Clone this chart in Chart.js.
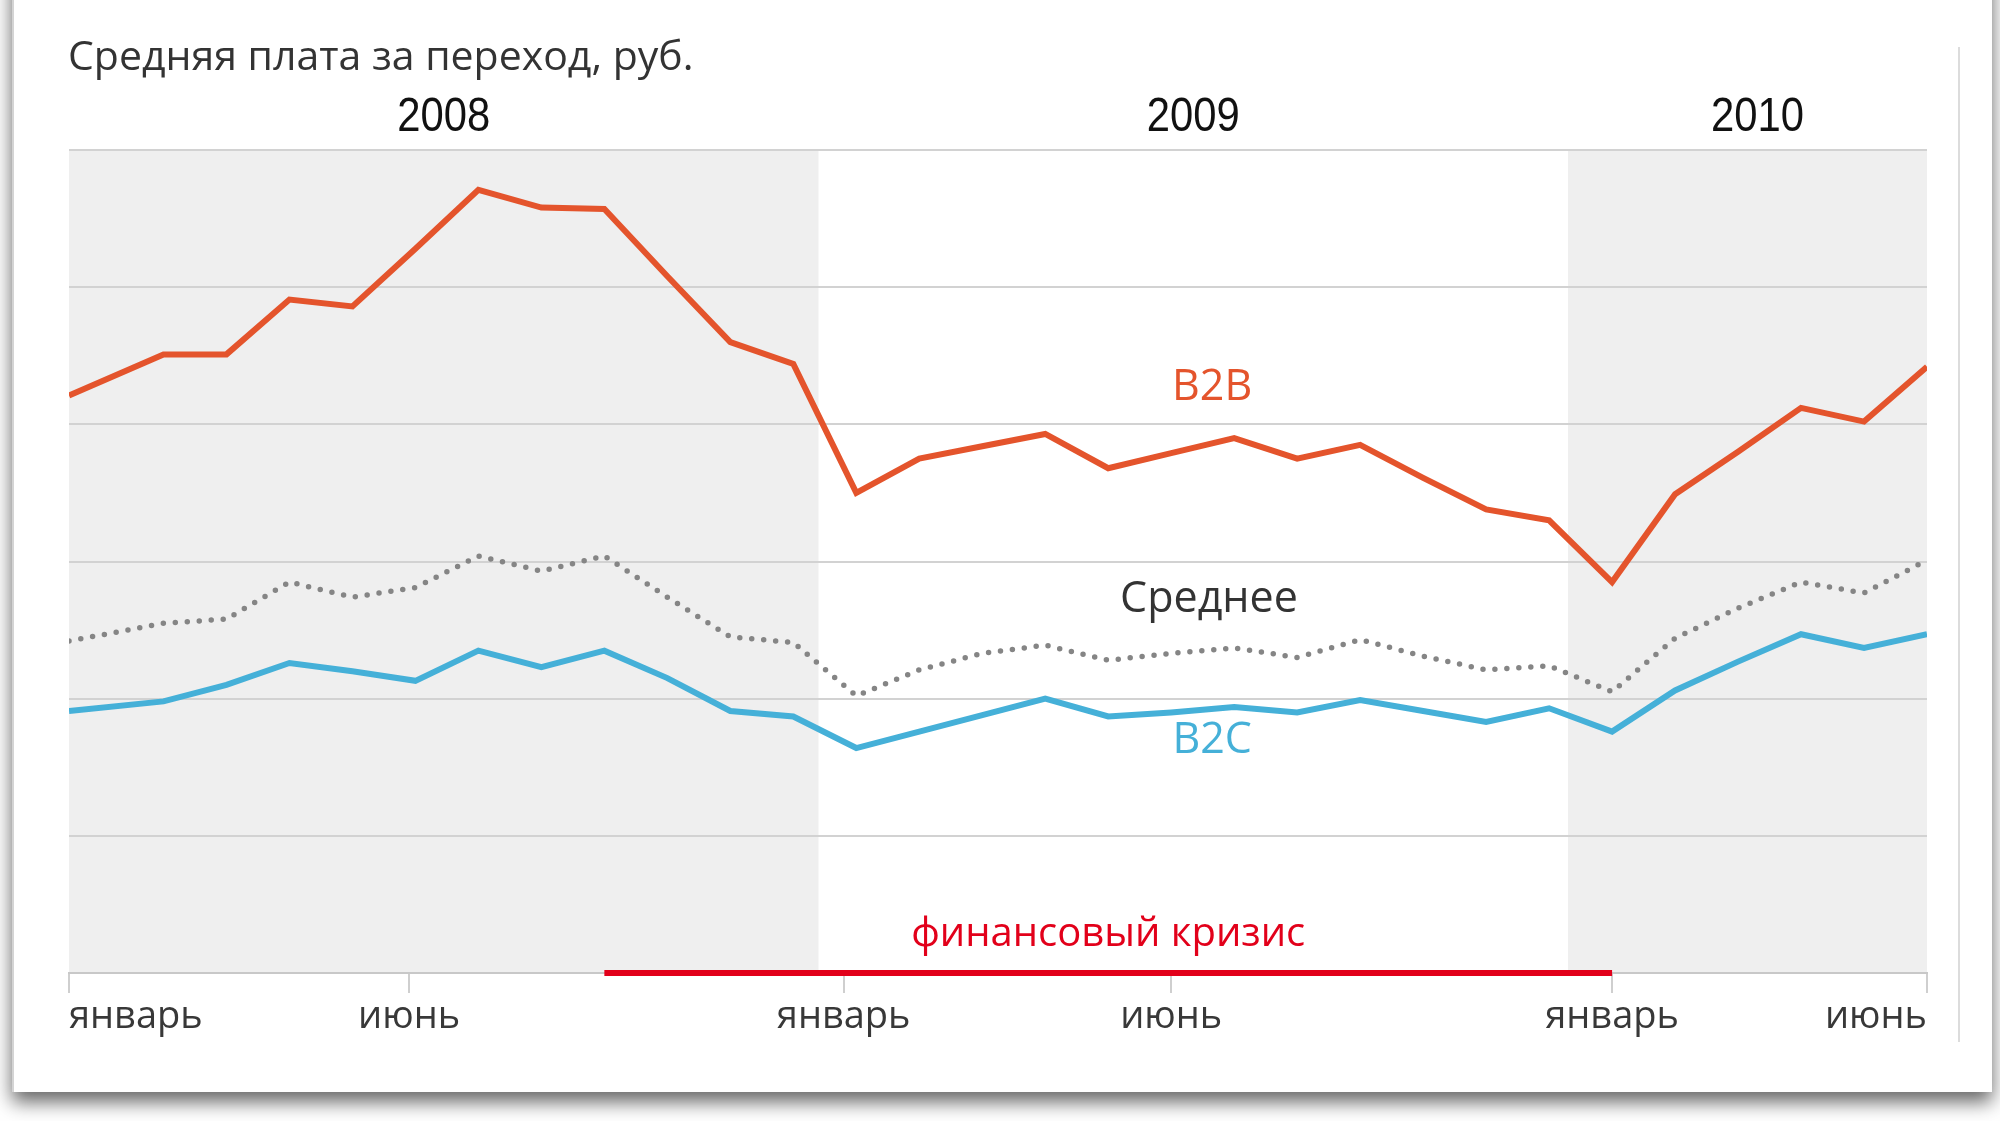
<!DOCTYPE html>
<html lang="ru">
<head>
<meta charset="utf-8">
<script src="https://cdn.jsdelivr.net/npm/chart.js@4.4.1/dist/chart.umd.min.js"></script>
<style>
  html, body { margin: 0; padding: 0; background: #fff; }
  body { width: 2000px; height: 1121px; position: relative; overflow: hidden; }
  .card { position: absolute; left: 12px; top: -40px; width: 1978px; height: 1132px; background: #fff;
          box-shadow: 0 10px 18px rgba(0,0,0,0.6); border-left: 2px solid #d4d4d4; }
  .edge { position: absolute; left: 1958px; top: 47px; height: 995px; border-left: 2px solid #dcdcdc; }
  #chart { position: absolute; left: 0; top: 0; }
</style>
</head>
<body>
<div class="card"></div>
<div class="edge"></div>
<canvas id="chart" width="2000" height="1121"></canvas>
<script>
// months counted from January 2008 (0); the first reading is the left edge of the plot
const months = [-0.5, 1, 2, 3, 4, 5, 6, 7, 8, 9, 10, 11, 12, 13, 14, 15, 16, 17, 18, 19, 20, 21, 22, 23, 24, 25, 26, 27, 28, 29];
const b2b = [4.21, 4.51, 4.51, 4.91, 4.86, 5.28, 5.71, 5.58, 5.57, 5.08, 4.60, 4.44, 3.50, 3.75, 3.84, 3.93, 3.68, 3.79, 3.90, 3.75, 3.85, 3.61, 3.38, 3.30, 2.85, 3.49, 3.80, 4.12, 4.02, 4.42];
const average = [2.42, 2.55, 2.58, 2.85, 2.74, 2.81, 3.04, 2.93, 3.04, 2.74, 2.45, 2.41, 2.02, 2.21, 2.33, 2.39, 2.28, 2.33, 2.37, 2.30, 2.43, 2.31, 2.21, 2.24, 2.05, 2.44, 2.66, 2.85, 2.77, 3.01];
const b2c = [1.91, 1.98, 2.10, 2.26, 2.20, 2.13, 2.35, 2.23, 2.35, 2.15, 1.91, 1.87, 1.64, 1.76, 1.88, 2.00, 1.87, 1.90, 1.94, 1.90, 1.99, 1.91, 1.83, 1.93, 1.76, 2.06, 2.27, 2.47, 2.37, 2.47];

const tickMonths = [-0.5, 4.9, 11.8, 17, 24, 29];
const tickLabels = ['январь', 'июнь', 'январь', 'июнь', 'январь', 'июнь'];

const yearLabels = ['2008', '2009', '2010'];
const yearStarts = [-0.5, 11.4, 23.3];
const yearEnds = [11.4, 23.3, 29];

const crisis = [8, 24];

const toPoints = (arr) => months.map((m, i) => ({ x: m, y: arr[i] }));

const bands = {
  id: 'bands',
  beforeDraw(chart) {
    const { ctx, chartArea, scales } = chart;
    ctx.save();
    ctx.fillStyle = '#efefef';
    [0, 2].forEach(i => {
      const x1 = scales.x.getPixelForValue(yearStarts[i]);
      const x2 = scales.x.getPixelForValue(yearEnds[i]);
      ctx.fillRect(x1, chartArea.top, x2 - x1, chartArea.bottom - chartArea.top);
    });
    ctx.restore();
  }
};

const texts = {
  id: 'texts',
  afterDatasetsDraw(chart) {
    const { ctx, scales } = chart;
    const x = scales.x, y = scales.y;
    ctx.save();
    ctx.textBaseline = 'middle';

    ctx.fillStyle = '#333';
    ctx.textAlign = 'left';
    ctx.font = '41px "Open Sans"';
    ctx.fillText('Средняя плата за переход, руб.', 68, 58);

    ctx.fillStyle = '#111';
    ctx.textAlign = 'center';
    ctx.font = '44px "Liberation Sans"';
    yearLabels.forEach((lab, i) => {
      const cx = (x.getPixelForValue(yearStarts[i]) + x.getPixelForValue(yearEnds[i])) / 2;
      ctx.save();
      ctx.translate(cx + (i === 2 ? 10 : 0), 118);
      ctx.scale(0.95, 1.08);
      ctx.fillText(lab, 0, 0);
      ctx.restore();
    });

    ctx.font = '43px "Open Sans"';
    ctx.fillStyle = '#e4542c';
    ctx.fillText('B2B', x.getPixelForValue(17.65), y.getPixelForValue(4.27));
    ctx.fillStyle = '#333';
    ctx.fillText('Среднее', x.getPixelForValue(17.6), y.getPixelForValue(2.72));
    ctx.fillStyle = '#45b0d8';
    ctx.fillText('B2C', x.getPixelForValue(17.65), y.getPixelForValue(1.69));

    ctx.font = '40px "Open Sans"';
    ctx.fillStyle = '#e2001a';
    ctx.fillText('финансовый кризис', x.getPixelForValue((crisis[0] + crisis[1]) / 2), y.getPixelForValue(0.28));
    ctx.restore();
  }
};

new Chart(document.getElementById('chart'), {
  type: 'line',
  data: {
    datasets: [
      { label: 'B2C', data: toPoints(b2c), borderColor: '#45b0d8', borderWidth: 6 },
      { label: 'Среднее', data: toPoints(average), borderColor: '#858585', borderWidth: 5.5,
        borderDash: [0, 12], borderCapStyle: 'round' },
      { label: 'B2B', data: toPoints(b2b), borderColor: '#e4542c', borderWidth: 6 },
      { label: 'кризис', data: crisis.map(m => ({ x: m, y: 0 })), borderColor: '#e2001a',
        borderWidth: 6, clip: false }
    ]
  },
  options: {
    responsive: false,
    animation: false,
    devicePixelRatio: 1,
    layout: { padding: { left: 0, right: 73, top: 150, bottom: 0 } },
    elements: { point: { radius: 0 }, line: { tension: 0 } },
    plugins: { legend: { display: false }, tooltip: { enabled: false } },
    scales: {
      x: {
        type: 'linear',
        min: -0.5,
        max: 29,
        afterBuildTicks: s => { s.ticks = tickMonths.map(v => ({ value: v })); },
        afterFit: s => { s.height = 148; },
        ticks: {
          callback: (v, i) => tickLabels[i],
          align: 'inner',
          autoSkip: false,
          maxRotation: 0,
          padding: 1,
          color: '#383838',
          font: { family: 'Open Sans', size: 38 }
        },
        grid: { drawOnChartArea: false, tickLength: 20, color: '#cfcfcf', lineWidth: 2 },
        border: { display: true, color: '#c8c8c8', width: 2 }
      },
      y: {
        min: 0,
        max: 6,
        afterFit: s => { s.width = 69; },
        ticks: { display: false, stepSize: 1 },
        grid: { color: '#d2d2d2', lineWidth: 2, drawTicks: false },
        border: { display: false }
      }
    }
  },
  plugins: [bands, texts]
});
</script>
</body>
</html>
